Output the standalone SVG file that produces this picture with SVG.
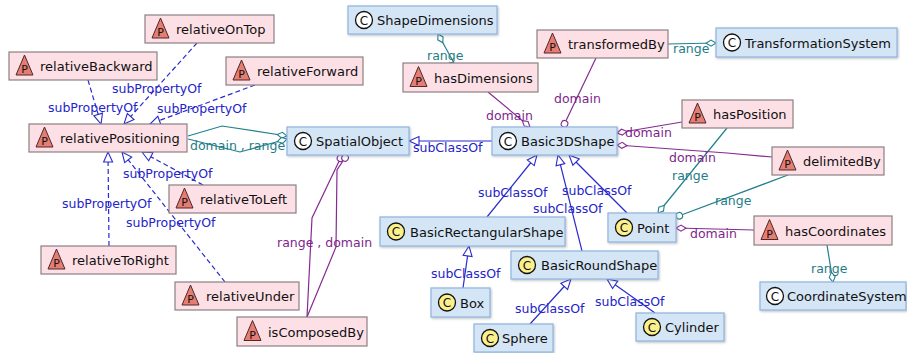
<svg xmlns="http://www.w3.org/2000/svg" width="907" height="353" viewBox="0 0 907 353">
  <style>
    .cls rect { fill: #d4e5f6; stroke: #8fb4e0; stroke-width: 1.2; }
    .prop rect { fill: #fde0e6; stroke: #8c7f84; stroke-width: 1.2; }
    .lbl { font-family: "DejaVu Sans", sans-serif; font-size: 13px; fill: #111; }
    .ico-c { stroke: #111; stroke-width: 1.3; }
    .ico-c.w { fill: #ffffff; }
    .ico-c.y { fill: #fbf08c; }
    .ico-p { fill: #e67c72; stroke: #4a2a2a; stroke-width: 1; }
    .icotxt { font-family: "DejaVu Sans", sans-serif; font-size: 12px; fill: #111; text-anchor: middle; }
    .icop { font-family: "DejaVu Sans", sans-serif; font-size: 11px; fill: #111; text-anchor: middle; }
    .e { fill: none; stroke-width: 1.2; }
    .sub { stroke: #2b2bcc; }
    .subp { stroke: #2b2bcc; stroke-dasharray: 5 3; }
    .dom { stroke: #862a92; }
    .rng { stroke: #22808c; }
    .et { font-family: "DejaVu Sans", sans-serif; font-size: 12.5px; }
    .t-sub { fill: #2424c8; }
    .t-dom { fill: #7e1f8c; }
    .t-rng { fill: #1f7c88; }
  </style>
  <defs>
    <filter id="shadow" x="-5%" y="-10%" width="115%" height="140%">
      <feDropShadow dx="1" dy="1.2" stdDeviation="0.8" flood-color="#606870" flood-opacity="0.4"/>
    </filter>
    <marker id="tri" markerUnits="userSpaceOnUse" markerWidth="12" markerHeight="11" refX="10" refY="4.5" orient="auto" overflow="visible">
      <path d="M0,0 L10,4.5 L0,9 z" fill="#ffffff" stroke="#2b2bcc" stroke-width="1.1"/>
    </marker>
    <marker id="dia-d" markerUnits="userSpaceOnUse" markerWidth="11" markerHeight="7" refX="10" refY="3" orient="auto" overflow="visible">
      <path d="M0,3 L5,0 L10,3 L5,6 z" fill="#ffffff" stroke="#862a92" stroke-width="1.1"/>
    </marker>
    <marker id="dia-r" markerUnits="userSpaceOnUse" markerWidth="11" markerHeight="7" refX="10" refY="3" orient="auto" overflow="visible">
      <path d="M0,3 L5,0 L10,3 L5,6 z" fill="#ffffff" stroke="#22808c" stroke-width="1.1"/>
    </marker>
    <marker id="dot-d" markerUnits="userSpaceOnUse" markerWidth="9" markerHeight="9" refX="7.5" refY="4" orient="auto" overflow="visible">
      <circle cx="4" cy="4" r="3.3" fill="#ffffff" stroke="#862a92" stroke-width="1.1"/>
    </marker>
    <marker id="dot-r" markerUnits="userSpaceOnUse" markerWidth="9" markerHeight="9" refX="7.5" refY="4" orient="auto" overflow="visible">
      <circle cx="4" cy="4" r="3.3" fill="#ffffff" stroke="#22808c" stroke-width="1.1"/>
    </marker>
  </defs>

  <rect width="907" height="353" fill="#ffffff"/>

  <!-- connectors -->
  <g id="connectors">
    <!-- subPropertyOf edges into relativePositioning -->
    <path class="e subp" d="M88,80 L101,124" marker-end="url(#tri)"/>
    <path class="e subp" d="M197,43 L124,124" marker-end="url(#tri)"/>
    <path class="e subp" d="M255,85 L150,124" marker-end="url(#tri)"/>
    <path class="e subp" d="M109,246 L108,152" marker-end="url(#tri)"/>
    <path class="e subp" d="M225,282 L122,152" marker-end="url(#tri)"/>
    <path class="e subp" d="M203,185 L142,152" marker-end="url(#tri)"/>

    <!-- relativePositioning domain / range SpatialObject -->
    <path class="e rng" d="M188,136 L222,126 L287,136" marker-end="url(#dia-r)"/>
    <path class="e rng" d="M188,139 L240,152 L287,139" marker-end="url(#dia-r)"/>

    <!-- isComposedBy range / domain SpatialObject -->
    <path class="e dom" d="M307,317 L312,218 L342,155" marker-end="url(#dot-d)"/>
    <path class="e dom" d="M307,317 L336,247 L337,170 L347,155" marker-end="url(#dot-d)"/>

    <!-- Basic3DShape subClassOf SpatialObject -->
    <path class="e sub" d="M492,141 L409,141" marker-end="url(#tri)"/>

    <!-- hasDimensions -->
    <path class="e rng" d="M454,63 L438,34" marker-end="url(#dia-r)"/>
    <path class="e dom" d="M488,92 L530,127" marker-end="url(#dia-d)"/>

    <!-- transformedBy -->
    <path class="e dom" d="M596,58 L563,127" marker-end="url(#dot-d)"/>
    <path class="e rng" d="M668,44 L716,43" marker-end="url(#dia-r)"/>

    <!-- hasPosition -->
    <path class="e dom" d="M682,122 L617,133" marker-end="url(#dia-d)"/>
    <path class="e rng" d="M727,128 L658,213" marker-end="url(#dia-r)"/>

    <!-- delimitedBy -->
    <path class="e dom" d="M772,157 L727,153 L617,145" marker-end="url(#dia-d)"/>
    <path class="e rng" d="M788,175 L676,217" marker-end="url(#dot-r)"/>

    <!-- hasCoordinates -->
    <path class="e dom" d="M754,230 L676,228" marker-end="url(#dia-d)"/>
    <path class="e rng" d="M827,245 L833,282" marker-end="url(#dia-r)"/>

    <!-- subClassOf Basic3DShape -->
    <path class="e sub" d="M487,217 L537,155" marker-end="url(#tri)"/>
    <path class="e sub" d="M582,251 L558,155" marker-end="url(#tri)"/>
    <path class="e sub" d="M627,213 L569,155" marker-end="url(#tri)"/>

    <!-- Box / Sphere / Cylinder -->
    <path class="e sub" d="M463,288 L469,246" marker-end="url(#tri)"/>
    <path class="e sub" d="M530,324 L571,279" marker-end="url(#tri)"/>
    <path class="e sub" d="M655,313 L607,279" marker-end="url(#tri)"/>

    <!-- edge labels -->
    <g class="et t-sub">
      <text x="48" y="112">subPropertyOf</text>
      <text x="112" y="93">subPropertyOf</text>
      <text x="157" y="113">subPropertyOf</text>
      <text x="123" y="178">subPropertyOf</text>
      <text x="62" y="208">subPropertyOf</text>
      <text x="126" y="227">subPropertyOf</text>
      <text x="413" y="152">subClassOf</text>
      <text x="478" y="197">subClassOf</text>
      <text x="533" y="213">subClassOf</text>
      <text x="562" y="195">subClassOf</text>
      <text x="431" y="278">subClassOf</text>
      <text x="515" y="313">subClassOf</text>
      <text x="595" y="306">subClassOf</text>
    </g>
    <g class="et t-rng">
      <text x="190" y="150">domain , range</text>
      <text x="427" y="60">range</text>
      <text x="673" y="53">range</text>
      <text x="672" y="180">range</text>
      <text x="715" y="205">range</text>
      <text x="811" y="273">range</text>
    </g>
    <g class="et t-dom">
      <text x="277" y="247">range , domain</text>
      <text x="486" y="120">domain</text>
      <text x="554" y="103">domain</text>
      <text x="625" y="137">domain</text>
      <text x="669" y="162">domain</text>
      <text x="690" y="238">domain</text>
    </g>
  </g>

  <!-- class nodes -->
  <g id="ShapeDimensions" class="cls">
    <rect x="348" y="6" width="149" height="28" filter="url(#shadow)"/>
    <circle class="ico-c w" cx="364" cy="20" r="8.5"/>
    <text class="icotxt" x="364" y="24.5">C</text>
    <text class="lbl" x="377" y="25">ShapeDimensions</text>
  </g>
  <g id="TransformationSystem" class="cls">
    <rect x="716" y="28" width="181" height="29" filter="url(#shadow)"/>
    <circle class="ico-c w" cx="732" cy="42.5" r="8.5"/>
    <text class="icotxt" x="732" y="47">C</text>
    <text class="lbl" x="745" y="47.5">TransformationSystem</text>
  </g>
  <g id="SpatialObject" class="cls">
    <rect x="287" y="127" width="122" height="28" filter="url(#shadow)"/>
    <circle class="ico-c w" cx="303" cy="141" r="8.5"/>
    <text class="icotxt" x="303" y="145.5">C</text>
    <text class="lbl" x="316" y="146">SpatialObject</text>
  </g>
  <g id="Basic3DShape" class="cls">
    <rect x="492" y="127" width="125" height="28" filter="url(#shadow)"/>
    <circle class="ico-c w" cx="508" cy="141" r="8.5"/>
    <text class="icotxt" x="508" y="145.5">C</text>
    <text class="lbl" x="521" y="146">Basic3DShape</text>
  </g>
  <g id="BasicRectangularShape" class="cls">
    <rect x="380" y="217" width="185" height="29" filter="url(#shadow)"/>
    <circle class="ico-c y" cx="396" cy="231.5" r="8.5"/>
    <text class="icotxt" x="396" y="236">C</text>
    <text class="lbl" x="410" y="236.5">BasicRectangularShape</text>
  </g>
  <g id="BasicRoundShape" class="cls">
    <rect x="511" y="251" width="147" height="28" filter="url(#shadow)"/>
    <circle class="ico-c y" cx="527" cy="265" r="8.5"/>
    <text class="icotxt" x="527" y="269.5">C</text>
    <text class="lbl" x="541" y="270">BasicRoundShape</text>
  </g>
  <g id="Point" class="cls">
    <rect x="608" y="213" width="68" height="29" filter="url(#shadow)"/>
    <circle class="ico-c y" cx="624" cy="227.5" r="8.5"/>
    <text class="icotxt" x="624" y="232">C</text>
    <text class="lbl" x="637" y="232.5">Point</text>
  </g>
  <g id="Box" class="cls">
    <rect x="431" y="288" width="59" height="29" filter="url(#shadow)"/>
    <circle class="ico-c y" cx="447" cy="302.5" r="8.5"/>
    <text class="icotxt" x="447" y="307">C</text>
    <text class="lbl" x="460" y="307.5">Box</text>
  </g>
  <g id="Sphere" class="cls">
    <rect x="474" y="324" width="79" height="28" filter="url(#shadow)"/>
    <circle class="ico-c y" cx="490" cy="338" r="8.5"/>
    <text class="icotxt" x="490" y="342.5">C</text>
    <text class="lbl" x="502" y="343">Sphere</text>
  </g>
  <g id="Cylinder" class="cls">
    <rect x="636" y="313" width="88" height="28" filter="url(#shadow)"/>
    <circle class="ico-c y" cx="652" cy="327" r="8.5"/>
    <text class="icotxt" x="652" y="331.5">C</text>
    <text class="lbl" x="665" y="332">Cylinder</text>
  </g>
  <g id="CoordinateSystem" class="cls">
    <rect x="760" y="282" width="146" height="28" filter="url(#shadow)"/>
    <circle class="ico-c w" cx="775" cy="296" r="8.5"/>
    <text class="icotxt" x="775" y="300.5">C</text>
    <text class="lbl" x="787" y="301">CoordinateSystem</text>
  </g>

  <!-- property nodes -->
  <g id="relativeOnTop" class="prop">
    <rect x="145" y="15" width="129" height="28"/>
    <path class="ico-p" d="M152,38 L160.5,18 L169,38 z"/>
    <text class="icop" x="160.5" y="36">P</text>
    <text class="lbl" x="176" y="34">relativeOnTop</text>
  </g>
  <g id="relativeBackward" class="prop">
    <rect x="9" y="52" width="148" height="28"/>
    <path class="ico-p" d="M16,75 L24.5,55 L33,75 z"/>
    <text class="icop" x="24.5" y="73">P</text>
    <text class="lbl" x="40" y="71">relativeBackward</text>
  </g>
  <g id="relativeForward" class="prop">
    <rect x="226" y="57" width="137" height="28"/>
    <path class="ico-p" d="M233,80 L241.5,60 L250,80 z"/>
    <text class="icop" x="241.5" y="78">P</text>
    <text class="lbl" x="257" y="76">relativeForward</text>
  </g>
  <g id="relativePositioning" class="prop">
    <rect x="29" y="124" width="158" height="28"/>
    <path class="ico-p" d="M36,147 L44.5,127 L53,147 z"/>
    <text class="icop" x="44.5" y="145">P</text>
    <text class="lbl" x="60" y="143">relativePositioning</text>
  </g>
  <g id="relativeToLeft" class="prop">
    <rect x="169" y="185" width="127" height="28"/>
    <path class="ico-p" d="M176,208 L184.5,188 L193,208 z"/>
    <text class="icop" x="184.5" y="206">P</text>
    <text class="lbl" x="200" y="204">relativeToLeft</text>
  </g>
  <g id="relativeToRight" class="prop">
    <rect x="41" y="246" width="135" height="28"/>
    <path class="ico-p" d="M48,269 L56.5,249 L65,269 z"/>
    <text class="icop" x="56.5" y="267">P</text>
    <text class="lbl" x="72" y="265">relativeToRight</text>
  </g>
  <g id="relativeUnder" class="prop">
    <rect x="175" y="282" width="124" height="28"/>
    <path class="ico-p" d="M182,305 L190.5,285 L199,305 z"/>
    <text class="icop" x="190.5" y="303">P</text>
    <text class="lbl" x="206" y="301">relativeUnder</text>
  </g>
  <g id="isComposedBy" class="prop">
    <rect x="237" y="317" width="130" height="29"/>
    <path class="ico-p" d="M244,340.5 L252.5,320.5 L261,340.5 z"/>
    <text class="icop" x="252.5" y="338.5">P</text>
    <text class="lbl" x="268" y="336.5">isComposedBy</text>
  </g>
  <g id="hasDimensions" class="prop">
    <rect x="403" y="63" width="135" height="29"/>
    <path class="ico-p" d="M410,86.5 L418.5,66.5 L427,86.5 z"/>
    <text class="icop" x="418.5" y="84.5">P</text>
    <text class="lbl" x="434" y="82.5">hasDimensions</text>
  </g>
  <g id="transformedBy" class="prop">
    <rect x="537" y="30" width="131" height="28"/>
    <path class="ico-p" d="M544,53 L552.5,33 L561,53 z"/>
    <text class="icop" x="552.5" y="51">P</text>
    <text class="lbl" x="568" y="49">transformedBy</text>
  </g>
  <g id="hasPosition" class="prop">
    <rect x="682" y="100" width="111" height="28"/>
    <path class="ico-p" d="M689,123 L697.5,103 L706,123 z"/>
    <text class="icop" x="697.5" y="121">P</text>
    <text class="lbl" x="713" y="119">hasPosition</text>
  </g>
  <g id="delimitedBy" class="prop">
    <rect x="772" y="147" width="112" height="28"/>
    <path class="ico-p" d="M779,170 L787.5,150 L796,170 z"/>
    <text class="icop" x="787.5" y="168">P</text>
    <text class="lbl" x="803" y="166">delimitedBy</text>
  </g>
  <g id="hasCoordinates" class="prop">
    <rect x="754" y="216" width="138" height="29"/>
    <path class="ico-p" d="M761,239.5 L769.5,219.5 L778,239.5 z"/>
    <text class="icop" x="769.5" y="237.5">P</text>
    <text class="lbl" x="785" y="235.5">hasCoordinates</text>
  </g>
</svg>
